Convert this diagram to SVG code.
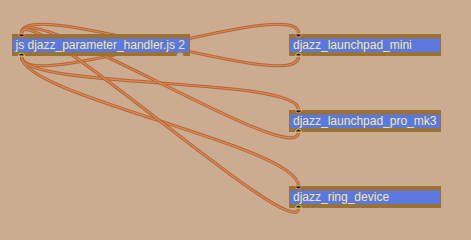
<svg xmlns="http://www.w3.org/2000/svg" width="471" height="240" viewBox="0 0 471 240">
  <style>
    .cord-outer { fill: none; stroke: #b3663a; stroke-width: 3.2; }
    .cord-inner { fill: none; stroke: #e08a52; stroke-width: 1.2; }
    .frame { fill: #9a7236; }
    .face { fill: #5b78df; }
    .label { font-family: "Liberation Sans", Arial, sans-serif; font-size: 12px; fill: #f5e7a2; }
    .inlet { fill: #1e1a16; stroke: #e3927f; stroke-width: 1; }
    .outlet { fill: #1e1a16; stroke: #d9cf6a; stroke-width: 1; }
    .gray { fill: #b3aca6; }
  </style>
  <defs>
    <path id="c1" d="M21.5,56.5 C21.5,96 298.5,-6 298.5,33.5"/>
    <path id="c2" d="M298.5,56.5 C298.5,96 21.5,-6 21.5,33.5"/>
    <path id="c3" d="M21.5,56.5 C21.5,90 298.5,76 298.5,109.5"/>
    <path id="c4" d="M298.5,132 C298.5,172 21.5,-6 21.5,33.5"/>
    <path id="c5" d="M21.5,56.5 C21.5,96 298.5,146 298.5,186"/>
    <path id="c6" d="M298.5,208 C298.5,248 21.5,-6 21.5,33.5"/>
  </defs>
  <rect width="471" height="240" fill="#cbac90"/>

  <g id="connectors">
    <use href="#c1" class="cord-outer"/><use href="#c1" class="cord-inner"/>
    <use href="#c2" class="cord-outer"/><use href="#c2" class="cord-inner"/>
    <use href="#c3" class="cord-outer"/><use href="#c3" class="cord-inner"/>
    <use href="#c4" class="cord-outer"/><use href="#c4" class="cord-inner"/>
    <use href="#c5" class="cord-outer"/><use href="#c5" class="cord-inner"/>
    <use href="#c6" class="cord-outer"/><use href="#c6" class="cord-inner"/>
  </g>

  <g id="handler">
    <rect class="frame" x="12" y="34" width="178" height="22"/>
    <rect class="face" x="13" y="38.5" width="176" height="13.5"/>
    <text class="label" x="15.5" y="49">js djazz_parameter_handler.js 2</text>
    <path class="inlet" d="M18.5,34 a3,3 0 0 0 6,0 Z"/>
    <path class="outlet" d="M18.5,56 a3,3 0 0 1 6,0 Z"/>
    <path class="gray" d="M176.5,56 a3.5,3.5 0 0 1 7,0 Z"/>
  </g>

  <g id="launchpad-mini">
    <rect class="frame" x="289" y="34" width="152" height="22"/>
    <rect class="face" x="290" y="38.5" width="150" height="13.5"/>
    <text class="label" x="293" y="49">djazz_launchpad_mini</text>
    <path class="inlet" d="M295.5,34 a3,3 0 0 0 6,0 Z"/>
    <path class="outlet" d="M295.5,56 a3,3 0 0 1 6,0 Z"/>
  </g>

  <g id="launchpad-pro-mk3">
    <rect class="frame" x="289" y="110" width="152" height="22"/>
    <rect class="face" x="290" y="114.5" width="150" height="13.5"/>
    <text class="label" x="293" y="125">djazz_launchpad_pro_mk3</text>
    <path class="inlet" d="M295.5,110 a3,3 0 0 0 6,0 Z"/>
    <path class="outlet" d="M295.5,132 a3,3 0 0 1 6,0 Z"/>
  </g>

  <g id="ring-device">
    <rect class="frame" x="289" y="186" width="152" height="22"/>
    <rect class="face" x="290" y="190.5" width="150" height="13.5"/>
    <text class="label" x="293" y="201">djazz_ring_device</text>
    <path class="inlet" d="M295.5,186 a3,3 0 0 0 6,0 Z"/>
    <path class="outlet" d="M295.5,208 a3,3 0 0 1 6,0 Z"/>
  </g>
</svg>
